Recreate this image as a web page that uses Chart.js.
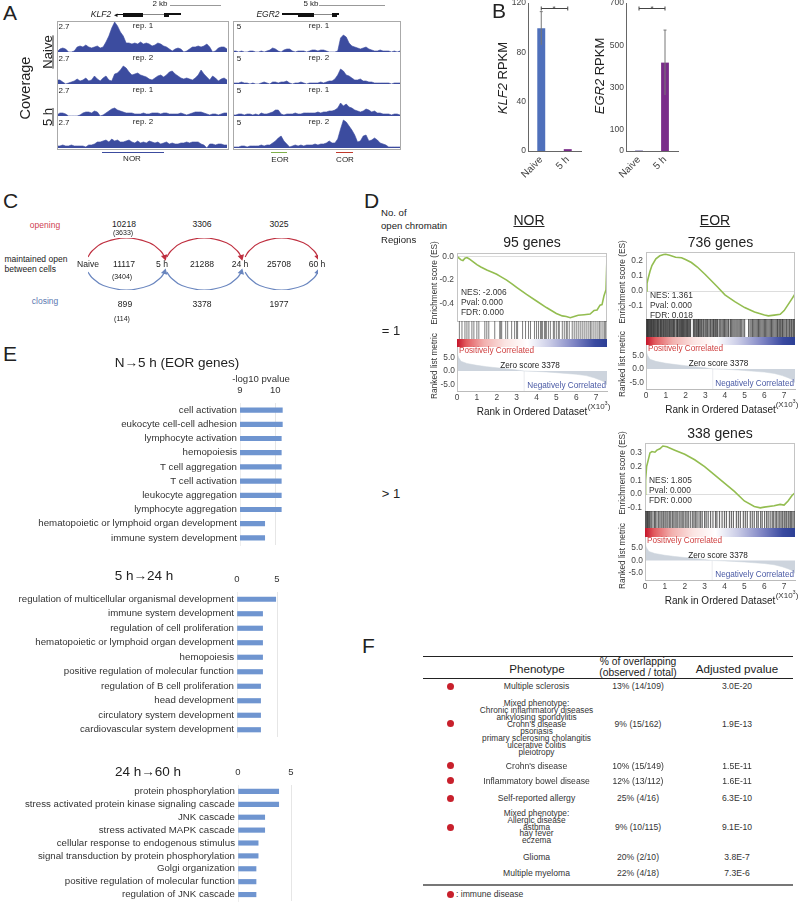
<!DOCTYPE html>
<html>
<head>
<meta charset="utf-8">
<title>Chromatin figure</title>
<script src="https://cdn.jsdelivr.net/npm/chart.js@4"></script>
<style>
html, body { margin: 0; background: #fff; }
body { position: relative; width: 799px; height: 902px; overflow: hidden; font-family: "Liberation Sans", Arial, sans-serif; color: #222; }
canvas { position: absolute; display: block; }
.t { position: absolute; white-space: nowrap; line-height: 1; }
.r { position: absolute; }
</style>
</head>
<body>
<script>
// A - coverage tracks
let klfNaive1 = [0,3,4,3,0,0,1,5,6,5,7,5,4,5,6,4,5,10,16,24,30,26,20,16,9,9,8,9,8,10,8,9,8,6,7,9,8,6,5,3,1,3,4,3,0,1,3,5,5,6,5,6,8,5,0,1,4,5,5,3];
let klfNaive2 = [4,4,2,0,1,2,3,5,3,4,6,3,4,8,5,3,6,8,4,3,10,11,14,18,16,12,9,10,11,9,8,7,5,4,6,8,9,7,9,12,13,10,8,6,5,6,5,4,6,9,14,10,7,4,8,6,3,5,6,4];
let klf5h1 = [1,3,3,2,0,0,0,0,1,3,4,4,3,5,4,0,1,3,5,7,8,6,5,4,3,3,3,2,2,2,3,2,2,3,3,3,2,3,3,2,2,2,2,3,2,1,2,3,4,4,4,3,2,1,2,2,1,2,3,3];
let klf5h2 = [2,2,3,2,2,3,2,2,2,2,1,3,3,4,6,6,7,8,6,9,7,8,6,6,7,8,6,5,7,5,6,5,7,6,5,6,4,5,6,4,5,4,4,5,5,6,5,6,6,6,4,3,0,4,4,3,4,4,3,3];
let egrNaive1 = [1,1,0,1,0,0,1,1,0,0,1,0,1,2,4,3,1,0,2,3,3,1,0,1,1,1,0,1,2,2,1,2,2,1,0,0,0,1,14,17,15,9,6,5,4,3,4,5,3,2,1,1,2,1,1,1,0,1,0,1];
let egrNaive2 = [1,1,1,2,1,1,0,1,0,0,1,2,1,0,2,2,1,2,2,3,1,0,1,1,2,1,0,1,1,1,1,2,1,2,3,3,5,9,15,13,9,8,6,4,4,5,3,3,2,2,1,1,1,1,1,1,0,1,1,1];
let egr5h1 = [1,1,2,2,1,2,2,1,2,1,3,2,2,3,4,6,6,2,1,2,2,2,3,2,2,3,3,3,3,3,4,3,4,4,5,5,6,8,13,10,12,9,8,6,5,4,5,7,6,4,5,3,3,2,2,2,1,2,2,1];
let egr5h2 = [1,1,1,2,2,1,2,2,2,2,3,2,3,3,5,7,10,12,7,4,1,2,3,2,3,2,3,3,3,4,3,4,4,5,7,5,5,9,19,28,26,22,18,13,6,7,12,13,7,8,10,8,5,4,3,1,1,1,1,1];
let trackMax = 32;

// B - RPKM bars
let rpkmCats = ['Naive', '5 h'];
let klfRpkm = [99.5, 1.5];
let klfLow = [86, 1];
let klfHigh = [113, 2.5];
let klfTicks = [0, 40, 80, 120];
let egrRpkm = [2, 418];
let egrLow = [1, 265];
let egrHigh = [3, 572];
let egrTicks = [0, 100, 300, 500, 700];

// C - arcs between time points
let arcFrom = [0, 1.03, 2.05];
let arcTo = [1, 2, 3];
let arcShapeX = [0, 0.05, 0.2, 0.5, 0.8, 0.95, 1];
let arcShapeY = [0, 0.3, 0.75, 1, 0.75, 0.3, 0];

// D - enrichment curves
let rankTicks = [0, 1, 2, 3, 4, 5, 6, 7];
let norX = [0,0.1,0.2,0.3,0.4,0.5,0.6,0.8,1,1.2,1.5,1.8,2,2.2,2.5,2.8,3,3.5,4,4.5,5,5.3,5.5,5.7,5.9,6.1,6.4,6.7,6.9,7.05,7.2,7.3,7.4,7.5,7.55];
let norEs = [0,-0.015,-0.03,-0.035,-0.015,-0.01,-0.02,-0.045,-0.07,-0.09,-0.115,-0.135,-0.15,-0.17,-0.2,-0.235,-0.26,-0.32,-0.375,-0.43,-0.48,-0.5,-0.505,-0.515,-0.505,-0.495,-0.49,-0.485,-0.455,-0.45,-0.41,-0.405,-0.33,-0.28,0];
let eorX = [0,0.05,0.1,0.2,0.3,0.5,0.7,0.9,1,1.2,1.5,1.8,2,2.3,2.6,3,3.3,3.6,4,4.5,5,5.5,6,6.2,6.5,6.8,7,7.2,7.4,7.55];
let eorEs = [0,0.05,0.08,0.13,0.17,0.215,0.235,0.243,0.245,0.238,0.225,0.222,0.21,0.19,0.16,0.11,0.07,0.03,-0.025,-0.07,-0.11,-0.14,-0.16,-0.165,-0.16,-0.155,-0.13,-0.09,-0.05,-0.02];
let multiX = [0,0.03,0.08,0.15,0.25,0.35,0.5,0.6,0.75,0.9,1.1,1.5,2,2.5,3,3.5,4,4.5,5,5.5,5.8,6,6.5,6.8,7,7.2,7.4,7.55];
let multiEs = [0,0.1,0.2,0.24,0.3,0.31,0.305,0.32,0.33,0.35,0.345,0.32,0.29,0.25,0.2,0.14,0.08,0.02,-0.05,-0.09,-0.1,-0.095,-0.085,-0.075,-0.08,-0.05,-0.01,0.01];

let norHits = [0.12,0.25,0.4,0.5,0.6,0.75,0.85,1.0,1.1,1.4,1.5,1.6,1.9,2.15,2.2,2.25,2.45,2.55,2.75,2.9,3.0,3.05,3.3,3.45,3.6,3.7,3.9,4.0,4.1,4.2,4.25,4.3,4.4,4.45,4.5,4.6,4.7,4.85,4.9,5.0,5.1,5.15,5.3,5.4,5.5,5.55,5.65,5.8,5.9,6.0,6.1,6.2,6.3,6.4,6.5,6.6,6.7,6.75,6.85,6.95,7.05,7.15,7.2,7.3,7.4,7.45,7.5];
let eorHits = [0.02,0.05,0.08,0.11,0.14,0.17,0.21,0.24,0.27,0.3,0.34,0.37,0.4,0.44,0.47,0.51,0.55,0.58,0.62,0.65,0.7,0.73,0.77,0.8,0.85,0.88,0.92,0.96,1.0,1.03,1.08,1.12,1.16,1.2,1.23,1.28,1.32,1.36,1.4,1.43,1.47,1.53,1.57,1.6,1.64,1.7,1.74,1.78,1.81,1.85,1.9,1.94,1.98,2.02,2.06,2.1,2.14,2.18,2.22,2.26,2.4,2.44,2.48,2.53,2.57,2.62,2.66,2.7,2.75,2.8,2.84,2.9,2.94,3.0,3.05,3.1,3.14,3.2,3.26,3.3,3.36,3.42,3.46,3.52,3.58,3.62,3.7,3.75,3.8,3.86,3.92,3.98,4.04,4.1,4.16,4.2,4.28,4.34,4.4,4.46,4.52,4.6,4.66,4.72,4.78,4.85,4.92,5.0,5.2,5.27,5.33,5.4,5.46,5.52,5.58,5.64,5.7,5.76,5.82,5.88,5.94,6.0,6.06,6.12,6.18,6.24,6.3,6.36,6.42,6.48,6.54,6.6,6.66,6.7,6.76,6.82,6.88,6.92,6.98,7.04,7.1,7.14,7.2,7.26,7.3,7.36,7.4,7.46,7.5,7.54];
let multiHits = [0.03,0.06,0.1,0.13,0.17,0.22,0.26,0.32,0.4,0.48,0.52,0.6,0.68,0.75,0.82,0.9,0.95,1.02,1.1,1.16,1.24,1.3,1.38,1.45,1.52,1.6,1.66,1.75,1.82,1.9,1.96,2.05,2.12,2.2,2.3,2.4,2.47,2.55,2.62,2.72,2.8,2.88,3.0,3.08,3.18,3.3,3.42,3.55,3.62,3.75,3.88,4.0,4.1,4.25,4.35,4.45,4.6,4.7,4.8,4.95,5.05,5.15,5.3,5.4,5.5,5.62,5.7,5.82,5.9,6.02,6.12,6.2,6.3,6.4,6.46,6.55,6.62,6.7,6.78,6.85,6.92,7.0,7.05,7.12,7.2,7.25,7.32,7.38,7.45,7.52];

let metricX = [0,0.03,0.08,0.2,0.5,1,1.5,2,2.5,3,3.38,4,4.5,5,5.5,6,6.5,6.9,7.2,7.4,7.55];
let metricY = [8.5,6.2,5,3.6,2.8,2.1,1.6,1.2,0.8,0.4,0,-0.15,-0.35,-0.6,-0.9,-1.2,-1.7,-2.5,-3.3,-4,-5.2];

// E - GO term bars
let eorTerms = ['cell activation','eukocyte cell-cell adhesion','lymphocyte activation','hemopoiesis','T cell aggregation','T cell activation','leukocyte aggregation','lymphocyte aggregation','hematopoietic or lymphoid organ development','immune system development'];
let eorLog = [10.2,10.2,10.17,10.17,10.17,10.17,10.17,10.17,9.7,9.7];
let t24Terms = ['regulation of multicellular organismal development','immune system development','regulation of cell proliferation','hematopoietic or lymphoid organ development','hemopoiesis','positive regulation of molecular function','regulation of B cell proliferation','head development','circulatory system development','cardiovascular system development'];
let t24Log = [4.84,3.2,3.2,3.2,3.2,3.2,2.95,2.95,2.95,2.95];
let t60Terms = ['protein phosphorylation','stress activated protein kinase signaling cascade','JNK cascade','stress activated MAPK cascade','cellular response to endogenous stimulus','signal transduction by protein phosphorylation','Golgi organization','positive regulation of molecular function','regulation of JNK cascade'];
let t60Log = [3.84,3.84,2.52,2.52,1.9,1.9,1.7,1.7,1.7];

// F - table
let phenotypes = [['Multiple sclerosis'],['Mixed phenotype:','Chronic inflammatory diseases','ankylosing spondylitis',"Crohn's disease",'psoriasis','primary sclerosing cholangitis','ulcerative colitis','pleiotropy'],["Crohn's disease"],['Inflammatory bowel disease'],['Self-reported allergy'],['Mixed phenotype:','Allergic disease','asthma','hay fever','eczema'],['Glioma'],['Multiple myeloma']];
let overlaps = ['13% (14/109)','9% (15/162)','10% (15/149)','12% (13/112)','25% (4/16)','9% (10/115)','20% (2/10)','22% (4/18)'];
let pvalues = ['3.0E-20','1.9E-13','1.5E-11','1.6E-11','6.3E-10','9.1E-10','3.8E-7','7.3E-6'];
let immune = [true,true,true,true,true,true,false,false];


function txt(x, y, str, o) {
    o = o || {};
    let d = document.createElement('div');
    d.className = 't';
    d.innerHTML = str;
    d.style.left = x + 'px';
    d.style.top = y + 'px';
    d.style.fontSize = (o.s || 8.5) + 'px';
    d.style.color = o.c || '#222';
    if (o.u) d.style.textDecoration = 'underline';
    let ax = o.a === 'l' ? '0' : (o.a === 'r' ? '-100%' : '-50%');
    d.style.transform = 'translate(' + ax + ',-50%)' + (o.r ? ' rotate(' + o.r + 'deg)' : '');
    document.body.appendChild(d);
}

function rect(x, y, w, h, c) {
    let d = document.createElement('div');
    d.className = 'r';
    d.style.cssText = 'left:' + x + 'px;top:' + y + 'px;width:' + w + 'px;height:' + h + 'px;background:' + c;
    document.body.appendChild(d);
    return d;
}

// box is the plot area in page pixels, m the room left around it for the axes
function plot(box, m, cfg) {
    let c = document.createElement('canvas');
    c.width = box.r - box.l + m.l + m.r;
    c.height = box.b - box.t + m.t + m.b;
    c.style.left = (box.l - m.l) + 'px';
    c.style.top = (box.t - m.t) + 'px';
    document.body.appendChild(c);

    let pad = { left: m.l, right: m.r, top: m.t, bottom: m.b };
    let scales = cfg.options.scales;
    Object.keys(scales).forEach(function (id) {
        let s = scales[id];
        if (s.display === false) return;
        if (id === 'x') {
            if (s.position === 'top') pad.top = 0; else pad.bottom = 0;
        } else {
            pad.left = 0;
        }
        let tickList = s.tickList;
        if (tickList) {
            s.afterBuildTicks = function (a) { a.ticks = tickList.map(function (v) { return { value: v }; }); };
        }
        s.afterFit = function (a) {
            if (a.isHorizontal()) a.height = s.position === 'top' ? m.t : m.b;
            else a.width = m.l;
            a.paddingTop = a.paddingBottom = a.paddingLeft = a.paddingRight = 0;
        };
    });
    cfg.options.responsive = false;
    cfg.options.animation = false;
    cfg.options.devicePixelRatio = 1;
    cfg.options.layout = { padding: pad, autoPadding: false };
    cfg.options.plugins = Object.assign({ legend: { display: false }, tooltip: { enabled: false } }, cfg.options.plugins);
    return new Chart(c, cfg);
}

let framePlugin = {
    id: 'frame',
    afterDraw: function (chart) {
        let a = chart.chartArea, g = chart.ctx;
        g.save();
        g.strokeStyle = '#c4c4c4';
        g.lineWidth = 1;
        g.strokeRect(a.left + 0.5, a.top + 0.5, a.right - a.left - 1, a.bottom - a.top);
        g.restore();
    }
};

// the y axis line, colour from the plugin options
let leftAxisPlugin = {
    id: 'leftAxis',
    afterDraw: function (chart, args, o) {
        let a = chart.chartArea, g = chart.ctx;
        g.save();
        g.strokeStyle = o.color;
        g.lineWidth = 1;
        g.beginPath();
        g.moveTo(a.left + 0.5, a.top);
        g.lineTo(a.left + 0.5, a.bottom);
        g.stroke();
        g.restore();
    }
};

let errPlugin = {
    id: 'errs',
    afterDatasetsDraw: function (chart, args, o) {
        let g = chart.ctx, x = chart.scales.x, y = chart.scales.y;
        g.save();
        g.strokeStyle = '#777';
        g.lineWidth = 1;
        o.low.forEach(function (v, i) {
            if (i !== o.show) return;
            let px = x.getPixelForValue(i);
            g.beginPath();
            g.moveTo(px, y.getPixelForValue(v));
            g.lineTo(px, y.getPixelForValue(o.high[i]));
            g.moveTo(px - 1.5, y.getPixelForValue(o.high[i]));
            g.lineTo(px + 1.5, y.getPixelForValue(o.high[i]));
            g.stroke();
        });
        let a = x.getPixelForValue(0), b = x.getPixelForValue(1), sy = Math.round(y.getPixelForValue(o.sig)) + 0.5;
        g.strokeStyle = '#444';
        g.beginPath();
        g.moveTo(a, sy); g.lineTo(b, sy);
        g.moveTo(a, sy - 2); g.lineTo(a, sy + 2);
        g.moveTo(b, sy - 2); g.lineTo(b, sy + 2);
        g.stroke();
        g.restore();
    }
};


// ---------- A
function track(vals, l, r, base) {
    plot({ l: l, r: r, t: base - 32, b: base }, { l: 0, r: 0, t: 0, b: 0 }, {
        type: 'line',
        data: {
            labels: vals.map(function (v, i) { return i; }),
            datasets: [{ data: vals, fill: 'origin', backgroundColor: '#3c4c9f', borderColor: '#3c4c9f', borderWidth: 0.6, pointRadius: 0, tension: 0 }]
        },
        options: { scales: { x: { display: false }, y: { display: false, min: 0, max: trackMax } } }
    });
}
let bases = [52, 84, 116, 148];
[klfNaive1, klfNaive2, klf5h1, klf5h2].forEach(function (v, i) { track(v, 57, 227, bases[i]); });
[egrNaive1, egrNaive2, egr5h1, egr5h2].forEach(function (v, i) { track(v, 233, 400, bases[i]); });

rect(57, 21, 170, 127, 'transparent').style.border = '1px solid #aaa';
rect(233, 21, 166, 127, 'transparent').style.border = '1px solid #aaa';

txt(3, 12, 'A', { s: 21, a: 'l' });
txt(25, 88, 'Coverage', { s: 14.5, r: -90 });
txt(47, 52, 'Naive', { s: 13, r: -90, u: true });
txt(47, 117, '5 h', { s: 13, r: -90, u: true });

['rep. 1', 'rep. 2', 'rep. 1', 'rep. 2'].forEach(function (s, i) {
    txt(143, 26 + i * 32, s, { s: 8 });
    txt(319, 26 + i * 32, s, { s: 8 });
    txt(64, 27 + i * 32, '2.7', { s: 8 });
    txt(239, 27 + i * 32, '5', { s: 8 });
});

// gene models
txt(101, 14, '<i>KLF2</i>', { s: 8.5 });
rect(117, 13.5, 6, 1.2, '#111');
txt(116, 14, '&#9666;', { s: 7, c: '#111' });
rect(123, 12.5, 20, 4, '#111');
rect(143, 14, 21, 0.8, '#888');
rect(164, 12.5, 5, 4, '#111');
rect(169, 13.3, 12, 2, '#111');
txt(160, 4, '2 kb', { s: 8 });
rect(170, 5, 51, 1, '#999');

txt(268, 14, '<i>EGR2</i>', { s: 8.5 });
rect(282, 13.3, 16, 1.6, '#111');
rect(298, 12.5, 16, 4, '#111');
rect(314, 14, 18, 0.8, '#888');
rect(332, 12.5, 5, 4, '#111');
rect(337, 13.3, 2, 2, '#111');
txt(311, 4, '5 kb', { s: 8 });
rect(319, 5, 66, 1, '#999');

rect(102, 151.5, 62, 1.2, '#3c4c9f');
txt(132, 159, 'NOR', { s: 8 });
rect(271, 151.5, 16, 1.2, '#7fb04a');
txt(280, 160, 'EOR', { s: 8 });
rect(336, 151.5, 17, 1.2, '#c0392b');
txt(345, 160, 'COR', { s: 8 });


// ---------- B
function rpkm(box, vals, low, high, ticks, maxV, colors, show, sig) {
    plot(box, { l: 22, r: 4, t: 5, b: 34 }, {
        type: 'bar',
        data: { labels: rpkmCats, datasets: [{ data: vals, backgroundColor: colors, barPercentage: 0.3, categoryPercentage: 1 }] },
        options: {
            plugins: { errs: { low: low, high: high, show: show, sig: sig }, leftAxis: { color: '#666' } },
            scales: {
                x: {
                    grid: { display: false, drawTicks: false }, border: { color: '#666', width: 1 },
                    ticks: { color: '#444', font: { size: 10, family: 'Liberation Sans' }, minRotation: 45, maxRotation: 45, padding: 3 }
                },
                y: {
                    min: 0, max: maxV, tickList: ticks,
                    grid: { display: false, drawTicks: false }, border: { display: false },
                    ticks: { color: '#444', font: { size: 8.5, family: 'Liberation Sans' }, padding: 2, autoSkip: false }
                }
            }
        },
        plugins: [errPlugin, leftAxisPlugin]
    });
}
rpkm({ l: 528, r: 581, t: 3, b: 151 }, klfRpkm, klfLow, klfHigh, klfTicks, 120, ['#4f70bb', '#7a2c8a'], 0, 116);
rpkm({ l: 626, r: 678, t: 3, b: 151 }, egrRpkm, egrLow, egrHigh, egrTicks, 700, ['#4a3f8a', '#7a2c8a'], 1, 676);

txt(492, 10, 'B', { s: 21, a: 'l' });
txt(502, 78, '<i>KLF2</i> RPKM', { s: 13, r: -90 });
txt(599, 76, '<i>EGR2</i> RPKM', { s: 13, r: -90 });
txt(554, 9, '*', { s: 8, c: '#444' });
txt(652, 9, '*', { s: 8, c: '#444' });


// ---------- C
function arcSets(color, base, sign) {
    return arcFrom.map(function (from, k) {
        let to = arcTo[k];
        return {
            data: arcShapeX.map(function (t, i) {
                return { x: from + (to - from) * t, y: sign * (base + (1 - base) * arcShapeY[i]) };
            }),
            showLine: true, tension: 0.4, borderColor: color, backgroundColor: color, borderWidth: 1.2,
            pointRadius: [0, 0, 0, 0, 0, 0, 2.6], pointStyle: 'triangle', pointRotation: sign > 0 ? 165 : 15
        };
    });
}
plot({ l: 88, r: 318, t: 238, b: 290 }, { l: 4, r: 4, t: 4, b: 4 }, {
    type: 'scatter',
    data: { datasets: arcSets('#bf3040', 0.27, 1).concat(arcSets('#6a86bf', 0.31, -1)) },
    options: { scales: { x: { display: false, min: 0, max: 3 }, y: { display: false, min: -1, max: 1 } } }
});

txt(3, 200, 'C', { s: 21, a: 'l' });
txt(45, 225, 'opening', { s: 8.5, c: '#cf4152' });
txt(45, 301, 'closing', { s: 8.5, c: '#5a78b0' });
txt(4.5, 259, 'maintained open', { s: 8.5, a: 'l' });
txt(4.5, 269, 'between cells', { s: 8.5, a: 'l' });
[['10218', 124, 224], ['3306', 202, 224], ['3025', 279, 224], ['Naive', 88, 264], ['11117', 124, 264], ['5 h', 162, 264], ['21288', 202, 264], ['24 h', 240, 264], ['25708', 279, 264], ['60 h', 317, 264], ['899', 125, 304], ['3378', 202, 304], ['1977', 279, 304]].forEach(function (a) {
    txt(a[1], a[2], a[0], { s: 8.6 });
});
txt(123, 232, '(3633)', { s: 7 });
txt(122, 276, '(3404)', { s: 7 });
txt(122, 318, '(114)', { s: 7 });


// ---------- D
function gsea(g) {
    let font = { size: 8.4, family: 'Liberation Sans' };
    let xs = function (arrX, arrY) { return arrX.map(function (v, i) { return { x: v, y: arrY[i] }; }); };

    plot({ l: g.l, r: g.r, t: g.esTop, b: g.esBot }, { l: 24, r: 2, t: 6, b: 6 }, {
        type: 'scatter',
        data: { datasets: [{ data: xs(g.x, g.es), showLine: true, borderColor: '#93bd50', borderWidth: 1.6, pointRadius: 0 }] },
        options: {
            scales: {
                x: { display: false, min: 0, max: 7.55 },
                y: {
                    min: g.esMin, max: g.esMax, tickList: g.esTicks,
                    grid: { drawTicks: false, color: function (c) { return c.tick.value === 0 ? '#ddd' : 'transparent'; } },
                    border: { display: false },
                    ticks: { color: '#444', font: font, padding: 3, autoSkip: false, callback: function (v) { return v.toFixed(1); } }
                }
            }
        },
        plugins: [framePlugin]
    });

    // barcode of gene set members
    plot({ l: g.l, r: g.r, t: g.esBot, b: g.gradTop }, { l: 0, r: 0, t: 0, b: 0 }, {
        type: 'scatter',
        data: { datasets: [{ data: g.hits.map(function (v) { return { x: v, y: 0 }; }), pointStyle: 'line', pointRotation: 90, pointRadius: (g.gradTop - g.esBot) / 2 + 1, borderColor: g.hitColor, pointBorderColor: g.hitColor, pointBorderWidth: g.hitWidth, clip: false }] },
        options: { scales: { x: { display: false, min: 0, max: 7.55 }, y: { display: false, min: -1, max: 1 } } }
    });

    rect(g.l, g.gradTop, g.r - g.l, g.gradBot - g.gradTop, 'linear-gradient(90deg,#c4142a 0%,#e25a5e 6%,#f2b0ae 18%,#fbe4e2 32%,#ffffff 47%,#c9cbe6 62%,#7f85c4 78%,#3a4aa0 92%,#2c3f95 100%)');

    plot({ l: g.l, r: g.r, t: g.gradBot, b: g.mBot }, { l: 24, r: 2, t: 6, b: 14 }, {
        type: 'scatter',
        data: {
            datasets: [
                { data: xs(metricX, metricY), showLine: true, fill: 'origin', backgroundColor: '#cdd4dd', borderColor: '#cdd4dd', borderWidth: 0.5, pointRadius: 0 },
                { data: [{ x: 3.38, y: g.mMin }, { x: 3.38, y: 0 }], showLine: true, borderColor: '#e3e6ea', borderWidth: 0.8, pointRadius: 0 }
            ]
        },
        options: {
            plugins: { leftAxis: { color: '#c4c4c4' } },
            scales: {
                x: {
                    min: 0, max: 7.55, tickList: rankTicks,
                    grid: { display: false, drawTicks: false }, border: { color: '#bbb' },
                    ticks: { color: '#444', font: font, padding: 2, autoSkip: false, maxRotation: 0 }
                },
                y: {
                    min: g.mMin, max: g.mMax, tickList: [-5, 0, 5],
                    grid: { display: false, drawTicks: false }, border: { display: false },
                    ticks: { color: '#444', font: font, padding: 2, autoSkip: false, callback: function (v) { return v.toFixed(1); } }
                }
            }
        },
        plugins: [leftAxisPlugin]
    });

    txt(g.labX, (g.esTop + g.esBot) / 2 - 4, 'Enrichment score (ES)', { s: 8.3, r: -90, c: '#333' });
    txt(g.labX, g.gradBot + 19, 'Ranked list metric', { s: 8.3, r: -90, c: '#333' });
    txt(g.l + 4, g.nesY, 'NES: ' + g.stats[0], { s: 8.4, a: 'l', c: '#333' });
    txt(g.l + 4, g.nesY + 10, 'Pval: ' + g.stats[1], { s: 8.4, a: 'l', c: '#333' });
    txt(g.l + 4, g.nesY + 20, 'FDR: ' + g.stats[2], { s: 8.4, a: 'l', c: '#333' });
    txt(g.l + 2, g.gradBot + 4, 'Positively Correlated', { s: 8.2, a: 'l', c: '#cf4040' });
    txt((g.l + g.r) / 2 - 2, g.gradBot + 18.5, 'Zero score 3378', { s: 8.2 });
    txt(g.r - 1, g.mBot - 5, 'Negatively Correlated', { s: 8.2, a: 'r', c: '#4a5aa5' });
    txt(g.r - 8, g.mBot + 15, '(X10<sup style="font-size:5.5px">3</sup>)', { s: 8, c: '#333' });
    txt((g.l + g.r) / 2, g.mBot + 21, 'Rank in Ordered Dataset', { s: 10, c: '#222' });
    txt((g.l + g.r) / 2, g.titleY, g.title, { s: 14 });
}

gsea({ l: 457, r: 607, esTop: 253, esBot: 321, gradTop: 339, gradBot: 347, mBot: 391, esMin: -0.543, esMax: 0.028, esTicks: [-0.4, -0.2, 0], mMin: -7.4, mMax: 8.9, x: norX, es: norEs, hits: norHits, hitColor: 'rgba(40,40,40,0.6)', hitWidth: 1, labX: 434, nesY: 292, stats: ['-2.006', '0.000', '0.000'], title: '95 genes', titleY: 242 });
gsea({ l: 646, r: 795, esTop: 252, esBot: 319, gradTop: 337, gradBot: 345, mBot: 389, esMin: -0.186, esMax: 0.26, esTicks: [-0.1, 0, 0.1, 0.2], mMin: -7.5, mMax: 8.9, x: eorX, es: eorEs, hits: eorHits, hitColor: 'rgba(20,20,20,0.72)', hitWidth: 1, labX: 622, nesY: 295, stats: ['1.361', '0.000', '0.018'], title: '736 genes', titleY: 242 });
gsea({ l: 645, r: 795, esTop: 443, esBot: 511, gradTop: 528, gradBot: 537, mBot: 580, esMin: -0.123, esMax: 0.372, esTicks: [-0.1, 0, 0.1, 0.2, 0.3], mMin: -7.8, mMax: 9.4, x: multiX, es: multiEs, hits: multiHits, hitColor: 'rgba(30,30,30,0.65)', hitWidth: 1.2, labX: 622, nesY: 480, stats: ['1.805', '0.000', '0.000'], title: '338 genes', titleY: 433 });

txt(364, 200, 'D', { s: 21, a: 'l' });
txt(381, 213, 'No. of', { s: 9.6, a: 'l' });
txt(381, 226, 'open chromatin', { s: 9.6, a: 'l' });
txt(381, 240, 'Regions', { s: 9.6, a: 'l' });
txt(529, 220, 'NOR', { s: 14, u: true });
txt(715, 220, 'EOR', { s: 14, u: true });
txt(391, 330, '= 1', { s: 13 });
txt(391, 493, '&gt; 1', { s: 13 });


// ---------- E
function goBars(box, m, terms, vals, minV, maxV, ticks) {
    plot(box, m, {
        type: 'bar',
        data: { labels: terms, datasets: [{ data: vals, backgroundColor: '#6f95d0', barThickness: 4.5 }] },
        options: {
            indexAxis: 'y',
            scales: {
                x: {
                    position: 'top', min: minV, max: maxV, tickList: ticks,
                    grid: { drawTicks: false, color: '#e6e6e6' }, border: { display: false },
                    ticks: { color: '#333', font: { size: 9.5, family: 'Liberation Sans' }, padding: 7, autoSkip: false, maxRotation: 0 }
                },
                y: {
                    grid: { display: false, drawTicks: false }, border: { color: '#eee' },
                    ticks: { color: '#333', font: { size: 9.7, family: 'Liberation Sans' }, padding: 3, autoSkip: false }
                }
            }
        }
    });
}
goBars({ l: 240, r: 285, t: 403, b: 545 }, { l: 240, r: 3, t: 23, b: 2 }, eorTerms, eorLog, 9, 10.275, [9, 10]);
goBars({ l: 237, r: 283, t: 592, b: 737 }, { l: 237, r: 3, t: 20, b: 2 }, t24Terms, t24Log, 0, 5.75, [0, 5]);
goBars({ l: 238, r: 296, t: 785, b: 901 }, { l: 238, r: 3, t: 20, b: 1 }, t60Terms, t60Log, 0, 5.47, [0, 5]);

txt(3, 353, 'E', { s: 21, a: 'l' });
txt(177, 363, 'N&rarr;5 h (EOR genes)', { s: 13.5 });
txt(261, 379, '-log10 pvalue', { s: 9.6, c: '#333' });
txt(144, 576, '5 h&rarr;24 h', { s: 13.5 });
txt(148, 772, '24 h&rarr;60 h', { s: 13.5 });


// ---------- F
txt(362, 645, 'F', { s: 21, a: 'l' });
rect(423, 656, 370, 1, '#222');
rect(423, 678, 370, 1, '#222');
rect(423, 884, 370, 1.6, '#777');
txt(537, 669, 'Phenotype', { s: 11.6 });
txt(638, 662, '% of overlapping', { s: 10.3 });
txt(638, 672.5, '(observed / total)', { s: 10.3 });
txt(737, 669, 'Adjusted pvalue', { s: 11.6 });

let rowY = [686, 727.5, 766, 781, 797.5, 826.5, 857, 873];
let dotY = [686, 723, 765, 780, 798, 827];
phenotypes.forEach(function (lines, i) {
    lines.forEach(function (s, k) {
        txt(536.5, rowY[i] + (k - (lines.length - 1) / 2) * 6.95, s, { s: lines.length > 1 ? 8.3 : 8.6, c: '#333' });
    });
    txt(638, i === 1 ? 723.5 : rowY[i], overlaps[i], { s: 8.6, c: '#333' });
    txt(737, i === 1 ? 723.5 : rowY[i], pvalues[i], { s: 8.6, c: '#333' });
    if (immune[i]) {
        let d = rect(446.5, dotY[i] - 3.5, 7, 7, '#c8202c');
        d.style.borderRadius = '50%';
    }
});
let dot = rect(447, 891, 7, 7, '#c8202c');
dot.style.borderRadius = '50%';
txt(456, 894, ': immune disease', { s: 8.6, a: 'l', c: '#333' });
</script>
</body>
</html>
